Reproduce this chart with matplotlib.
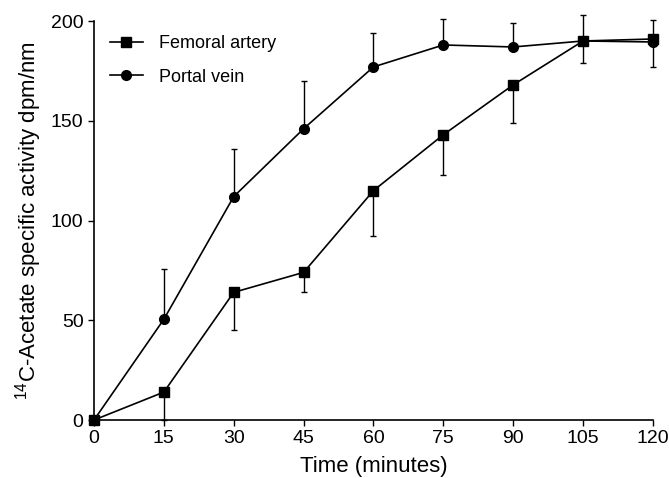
import matplotlib
matplotlib.use("Agg")
import matplotlib.pyplot as plt
from matplotlib.lines import Line2D

plt.rcParams['font.family'] = ['Liberation Sans', 'DejaVu Sans']
plt.rcParams['mathtext.default'] = 'regular'

time = [0, 15, 30, 45, 60, 75, 90, 105, 120]
femoral = [0, 14, 64, 74, 115, 143, 168, 190, 191]
femoral_err = [0, 14, 19, 10, 23, 20, 19, 11, 14]
portal = [0, 50.5, 112, 146, 177, 188, 187, 190, 189.5]
portal_err = [0, 25, 24, 24, 17, 13, 12, 13, 11]

fig = plt.figure(figsize=(6.69, 4.78), dpi=100)
ax = fig.add_axes([0.1405, 0.1213, 0.8355, 0.8347])

ax.errorbar(time, femoral, yerr=[femoral_err, [0] * len(time)], color='black',
            marker='s', markersize=7, linewidth=1.2, elinewidth=1.0, capsize=2)
ax.errorbar(time, portal, yerr=[[0] * len(time), portal_err], color='black',
            marker='o', markersize=7, linewidth=1.2, elinewidth=1.0, capsize=2)

ax.set_xlim(0, 120)
ax.set_ylim(0, 200)
ax.set_xticks(time)
ax.set_yticks([0, 50, 100, 150, 200])
ax.spines['top'].set_visible(False)
ax.spines['right'].set_visible(False)
ax.spines['left'].set_linewidth(1.2)
ax.spines['bottom'].set_linewidth(1.2)
ax.tick_params(axis='both', labelsize=14, direction='out', length=4, width=1)
ax.set_xlabel('Time (minutes)', fontsize=16, labelpad=6)
ax.set_ylabel('$^{14}$C-Acetate specific activity dpm/nm', fontsize=16, labelpad=5)
for artist in ax.get_children():
    try:
        artist.set_clip_on(False)
    except Exception:
        pass

handles = [
    Line2D([], [], color='black', marker='s', markersize=7, linewidth=1.2),
    Line2D([], [], color='black', marker='o', markersize=7, linewidth=1.2),
]
ax.legend(handles, ['Femoral artery', 'Portal vein'], loc='upper left',
          frameon=False, fontsize=13, bbox_to_anchor=(0.0, 1.005),
          handlelength=1.8, handletextpad=0.9, labelspacing=0.9)

fig.savefig('out.png', dpi=100)
